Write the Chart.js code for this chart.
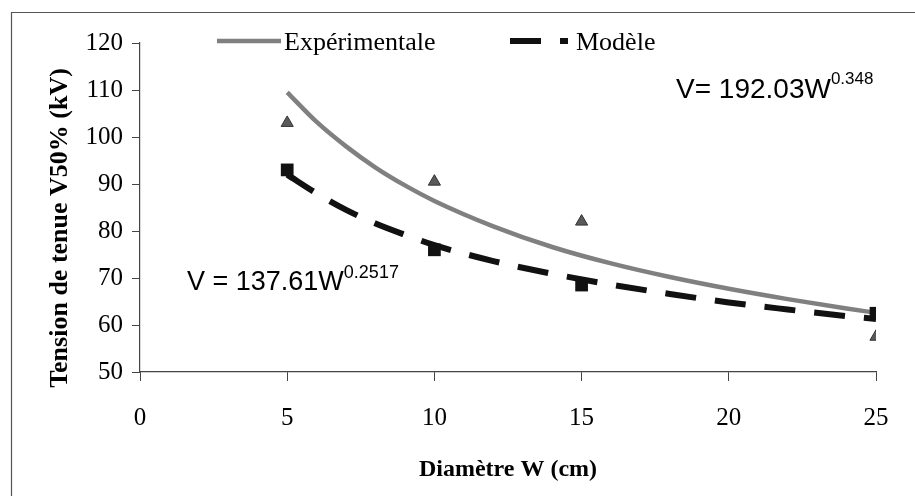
<!DOCTYPE html>
<html>
<head>
<meta charset="utf-8">
<script src="https://cdn.jsdelivr.net/npm/chart.js@4"></script>
<style>
  html, body { margin: 0; padding: 0; background: #fff; }
  #wrap { width: 915px; height: 496px; }
</style>
</head>
<body>
<div id="wrap"><canvas id="myChart" width="915" height="496"></canvas></div>
<script>
// points mesures
const diametres = [5, 10, 15, 25]
const tensionExp = [103, 90.5, 82, 57.5]
const tensionModele = [93, 76, 68.5, 62.5]

// courbes de tendance
const wCourbe = [5, 6, 7, 8, 9, 10, 12, 14, 16, 18, 20, 22, 24, 25]
const courbeExp = [109.5, 103.2, 98, 93.5, 89.7, 86.4, 81, 76.6, 73.1, 70.2, 67.7, 65.5, 63.5, 62.6]
const courbeModele = [92, 88, 84.5, 81.6, 79.2, 77, 73.6, 70.9, 68.6, 66.6, 64.8, 63.3, 61.9, 61.3]

// axes
const xTicks = [0, 5, 10, 15, 20, 25]
const yTicks = [50, 60, 70, 80, 90, 100, 110, 120]

const serif = '"Liberation Serif", "Times New Roman", serif'
const sans = '"Liberation Sans", Arial, sans-serif'

const toXY = (xs, ys) => xs.map((x, i) => ({ x: x, y: ys[i] }))

// cadre, titre Y, legende et equations
const decor = {
    id: 'decor',
    beforeDraw(chart) {
        const ctx = chart.ctx
        ctx.save()
        ctx.fillStyle = '#fff'
        ctx.fillRect(0, 0, chart.width, chart.height)
        ctx.strokeStyle = '#555'
        ctx.lineWidth = 1.2
        ctx.beginPath()
        ctx.moveTo(11.5, chart.height)
        ctx.lineTo(11.5, 12.5)
        ctx.lineTo(chart.width, 12.5)
        ctx.stroke()
        ctx.restore()
    },
    afterDraw(chart) {
        const ctx = chart.ctx
        ctx.save()

        // titre axe Y
        ctx.translate(60, 228)
        ctx.rotate(-Math.PI / 2)
        ctx.font = 'bold 26px ' + serif
        ctx.fillStyle = '#000'
        ctx.textAlign = 'center'
        ctx.textBaseline = 'middle'
        ctx.fillText('Tension de tenue V50% (kV)', 0, 0)
        ctx.setTransform(1, 0, 0, 1, 0, 0)

        // legende
        const items = [
            { ds: chart.data.datasets[2], x1: 217, x2: 281, tx: 284 },
            { ds: chart.data.datasets[3], x1: 510, x2: 568, tx: 576 }
        ]
        ctx.textAlign = 'left'
        ctx.font = '26px ' + serif
        items.forEach(it => {
            ctx.strokeStyle = it.ds.borderColor
            ctx.lineWidth = it.ds.borderWidth
            ctx.setLineDash(it.ds.borderDash || [])
            ctx.beginPath()
            ctx.moveTo(it.x1, 41)
            ctx.lineTo(it.x2, 41)
            ctx.stroke()
            ctx.setLineDash([])
            ctx.fillStyle = '#000'
            ctx.fillText(it.ds.label, it.tx, 43)
        })

        // equations
        const equation = (base, exp, x, y, size, expSize) => {
            ctx.font = size + 'px ' + sans
            ctx.fillText(base, x, y)
            const w = ctx.measureText(base).width
            ctx.font = expSize + 'px ' + sans
            ctx.fillText(exp, x + w, y - size * 0.38)
        }
        equation('V= 192.03W', '0.348', 676, 90, 28, 17)
        equation('V = 137.61W', '0.2517', 187, 283, 27, 18)

        ctx.restore()
    }
}

const ctx = document.getElementById('myChart')
new Chart(ctx, {
    type: 'line',
    data: {
        datasets: [{
            label: 'Mesures',
            type: 'scatter',
            data: toXY(diametres, tensionExp),
            pointStyle: 'triangle',
            pointRadius: 7,
            backgroundColor: '#5a5a5a',
            borderColor: '#333',
            borderWidth: 1
        }, {
            label: 'Points modèle',
            type: 'scatter',
            data: toXY(diametres, tensionModele),
            pointStyle: 'rect',
            pointRadius: 9,
            backgroundColor: '#111',
            borderColor: '#111',
            borderWidth: 0
        }, {
            label: 'Expérimentale',
            data: toXY(wCourbe, courbeExp),
            borderColor: '#808080',
            borderWidth: 4.5,
            pointRadius: 0,
            cubicInterpolationMode: 'monotone',
            fill: false
        }, {
            label: 'Modèle',
            data: toXY(wCourbe, courbeModele),
            borderColor: '#111',
            borderWidth: 6,
            borderDash: [31, 19],
            pointRadius: 0,
            cubicInterpolationMode: 'monotone',
            fill: false
        }]
    },
    options: {
        responsive: false,
        animation: false,
        devicePixelRatio: 1,
        layout: { padding: { left: 0, right: 39, top: 43, bottom: 0 } },
        plugins: {
            legend: { display: false },
            tooltip: { enabled: false }
        },
        scales: {
            x: {
                type: 'linear',
                min: 0,
                max: 25,
                afterBuildTicks: s => { s.ticks = xTicks.map(v => ({ value: v })) },
                afterFit: s => { s.height = 124 },
                grid: { drawOnChartArea: false, drawTicks: true, tickLength: 9, color: '#444' },
                border: { color: '#444', width: 1.2 },
                ticks: { color: '#000', font: { family: serif, size: 25 }, padding: 22, maxRotation: 0 },
                title: {
                    display: true,
                    text: 'Diamètre W (cm)',
                    color: '#000',
                    font: { family: serif, size: 24, weight: 'bold' },
                    padding: { top: 0, bottom: 12 }
                }
            },
            y: {
                min: 50,
                max: 120,
                afterBuildTicks: s => { s.ticks = yTicks.map(v => ({ value: v })) },
                afterFit: s => { s.width = 140 },
                grid: { drawOnChartArea: false, drawTicks: true, tickLength: 8, color: '#444' },
                border: { color: '#444', width: 1.2 },
                ticks: { color: '#000', font: { family: serif, size: 25 }, padding: 9 }
            }
        }
    },
    plugins: [decor]
})
</script>
</body>
</html>
